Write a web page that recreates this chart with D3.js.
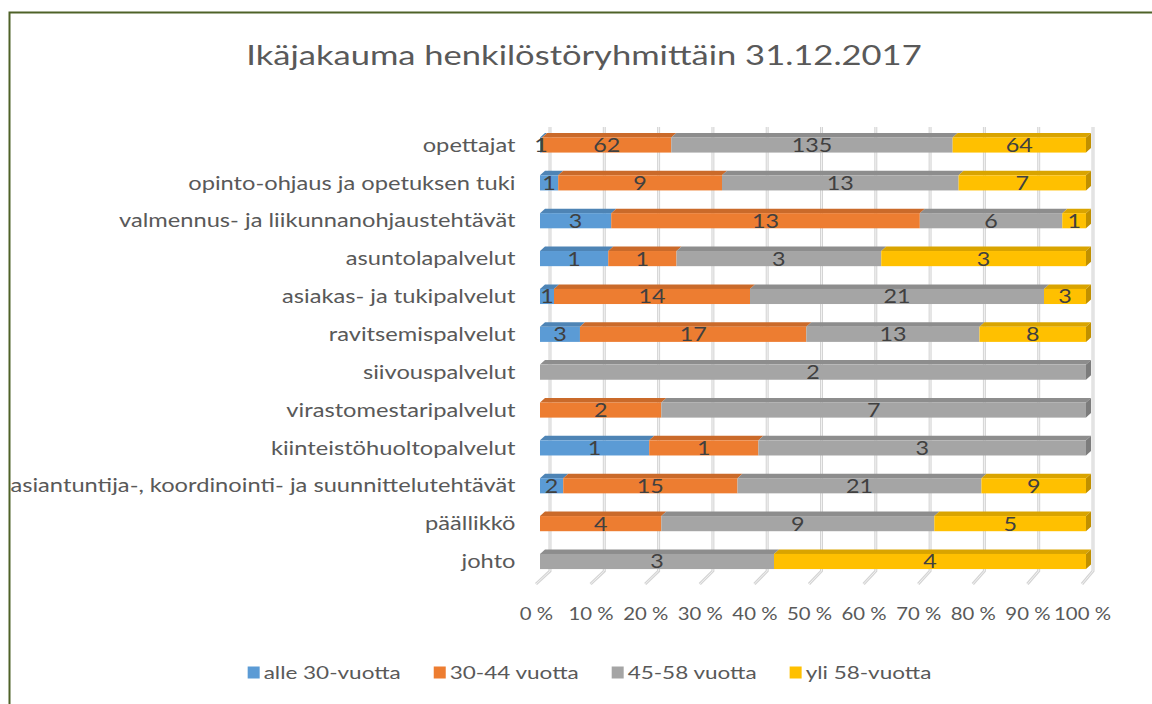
<!DOCTYPE html>
<html>
<head>
<meta charset="utf-8">
<script src="https://cdn.jsdelivr.net/npm/d3@7"></script>
<style>
  html, body { margin: 0; padding: 0; background: #fff; }
  svg { display: block; }
  text { font-family: Lato, "Open Sans", sans-serif; }
</style>
</head>
<body>
<svg id="chart" width="1152" height="704"></svg>
<script>
const title = "Ikäjakauma henkilöstöryhmittäin 31.12.2017";
const categories = [
  "opettajat",
  "opinto-ohjaus ja opetuksen tuki",
  "valmennus- ja liikunnanohjaustehtävät",
  "asuntolapalvelut",
  "asiakas- ja tukipalvelut",
  "ravitsemispalvelut",
  "siivouspalvelut",
  "virastomestaripalvelut",
  "kiinteistöhuoltopalvelut",
  "asiantuntija-, koordinointi- ja suunnittelutehtävät",
  "päällikkö",
  "johto"
];
const seriesNames = ["alle 30-vuotta", "30-44 vuotta", "45-58 vuotta", "yli 58-vuotta"];
const alle30  = [1, 1, 3, 1, 1, 3, 0, 0, 1, 2, 0, 0];
const v30_44  = [62, 9, 13, 1, 14, 17, 0, 2, 1, 15, 4, 0];
const v45_58  = [135, 13, 6, 3, 21, 13, 2, 7, 3, 21, 9, 3];
const yli58   = [64, 7, 1, 3, 3, 8, 0, 0, 0, 9, 5, 4];
const tickValues = [0, 10, 20, 30, 40, 50, 60, 70, 80, 90, 100];
const colors = ["#5b9bd5", "#ed7d31", "#a5a5a5", "#ffc000"];

const seriesValues = [alle30, v30_44, v45_58, yli58];
const SX = 1.26; // horizontal text stretch
const svg = d3.select("#chart");

// frame
svg.append("rect").attr("x", 9.5).attr("y", 12.5).attr("width", 1160).attr("height", 720)
  .attr("fill", "none").attr("stroke", "#4f6228").attr("stroke-width", 2);

// title
svg.append("text").attr("transform", `translate(584,64.5) scale(1.28,1)`).attr("text-anchor", "middle")
  .attr("font-size", 27).attr("fill", "#595959").text(title);

// scales
const xBar = d3.scaleLinear().domain([0, 1]).range([540, 1086]);
const xWall = d3.scaleLinear().domain([0, 100]).range([550, 1093]);
const xFloor = d3.scaleLinear().domain([0, 100]).range([536, 1082]);
const y = d3.scaleBand().domain(categories).range([126.07, 580.43]).paddingInner(0.6).paddingOuter(0.3);
const depthX = 5, depthY = 4.5;
const wallTop = 127, wallBottom = 571, floorFront = 584;

// gridlines (back wall + floor)
const grid = svg.append("g");
tickValues.forEach(t => {
  const xb = xWall(t), xf = xFloor(t);
  const p = `M${xb},${wallTop}L${xb},${wallBottom}L${xf},${floorFront}`;
  grid.append("path").attr("d", p).attr("fill", "none").attr("stroke", "#d4d4d4").attr("stroke-width", 3);
  grid.append("path").attr("d", p).attr("fill", "none").attr("stroke", "#f2f2f2").attr("stroke-width", 1);
});

// stacked data
const rows = categories.map((c, i) => {
  const vals = seriesValues.map(s => s[i]);
  const total = d3.sum(vals);
  let acc = 0;
  const segs = vals.map((v, k) => {
    const s = { k, v, x0: acc / total, x1: (acc + v) / total };
    acc += v;
    return s;
  });
  return { c, segs };
});

const bars = svg.append("g");
rows.forEach(r => {
  const yt = y(r.c), h = y.bandwidth();
  const nz = r.segs.filter(s => s.v > 0);
  const last = nz[nz.length - 1];
  nz.forEach(s => {
    const x0 = xBar(s.x0), x1 = xBar(s.x1);
    const col = d3.color(colors[s.k]);
    bars.append("path")
      .attr("d", `M${x0},${yt}L${x1},${yt}L${x1 + depthX},${yt - depthY}L${x0 + depthX},${yt - depthY}Z`)
      .attr("fill", col.darker(0.45));
    bars.append("rect").attr("x", x0).attr("y", yt).attr("width", Math.max(0, x1 - x0)).attr("height", h)
      .attr("fill", colors[s.k]);
    if (s === last) {
      bars.append("path")
        .attr("d", `M${x1},${yt}L${x1 + depthX},${yt - depthY}L${x1 + depthX},${yt + h - depthY}L${x1},${yt + h}Z`)
        .attr("fill", col.darker(0.8));
    }
  });
});

// value labels
const labels = svg.append("g");
rows.forEach(r => {
  const yc = y(r.c) + y.bandwidth() / 2;
  r.segs.filter(s => s.v > 0).forEach(s => {
    const cx = (xBar(s.x0) + xBar(s.x1)) / 2;
    labels.append("text")
      .attr("transform", `translate(${cx},${yc + 7}) scale(${SX},1)`)
      .attr("text-anchor", "middle")
      .attr("font-size", 18.5)
      .attr("fill", "#404040")
      .text(s.v);
  });
});

// category axis
const yAxis = svg.append("g").attr("transform", "translate(527,0)")
  .call(d3.axisLeft(y).tickSize(0).tickPadding(9));
yAxis.select(".domain").remove();
yAxis.selectAll("text").attr("font-size", 18.5).attr("fill", "#595959")
  .attr("font-family", "Lato, 'Open Sans', sans-serif").attr("dy", "0.36em")
  .attr("transform", `scale(1.28,1)`);

// percentage axis
const xAxis = svg.append("g").attr("transform", `translate(0,${floorFront})`)
  .call(d3.axisBottom(xFloor).tickValues(tickValues).tickFormat(d => d + " %").tickSize(0).tickPadding(23));
xAxis.select(".domain").remove();
xAxis.selectAll("text").attr("font-size", 18).attr("fill", "#595959")
  .attr("font-family", "Lato, 'Open Sans', sans-serif")
  .attr("transform", `scale(1.13,1)`);

// legend
const LSX = 1.25;
const legend = svg.append("g");
const items = legend.selectAll("g").data(seriesNames).join("g");
items.append("rect").attr("width", 12).attr("height", 12).attr("y", -12.5).attr("fill", (d, i) => colors[i]);
items.append("text").attr("transform", `translate(16,0) scale(${LSX},1)`).attr("font-size", 18).attr("fill", "#595959").text(d => d);
let lx = 0;
const gap = 33;
items.each(function () {
  const w = this.querySelector("text").getComputedTextLength() * LSX + 16;
  d3.select(this).attr("transform", `translate(${lx},0)`);
  lx += w + gap;
});
const totalW = lx - gap;
legend.attr("transform", `translate(${589.5 - totalW / 2},679)`);
</script>
</body>
</html>
